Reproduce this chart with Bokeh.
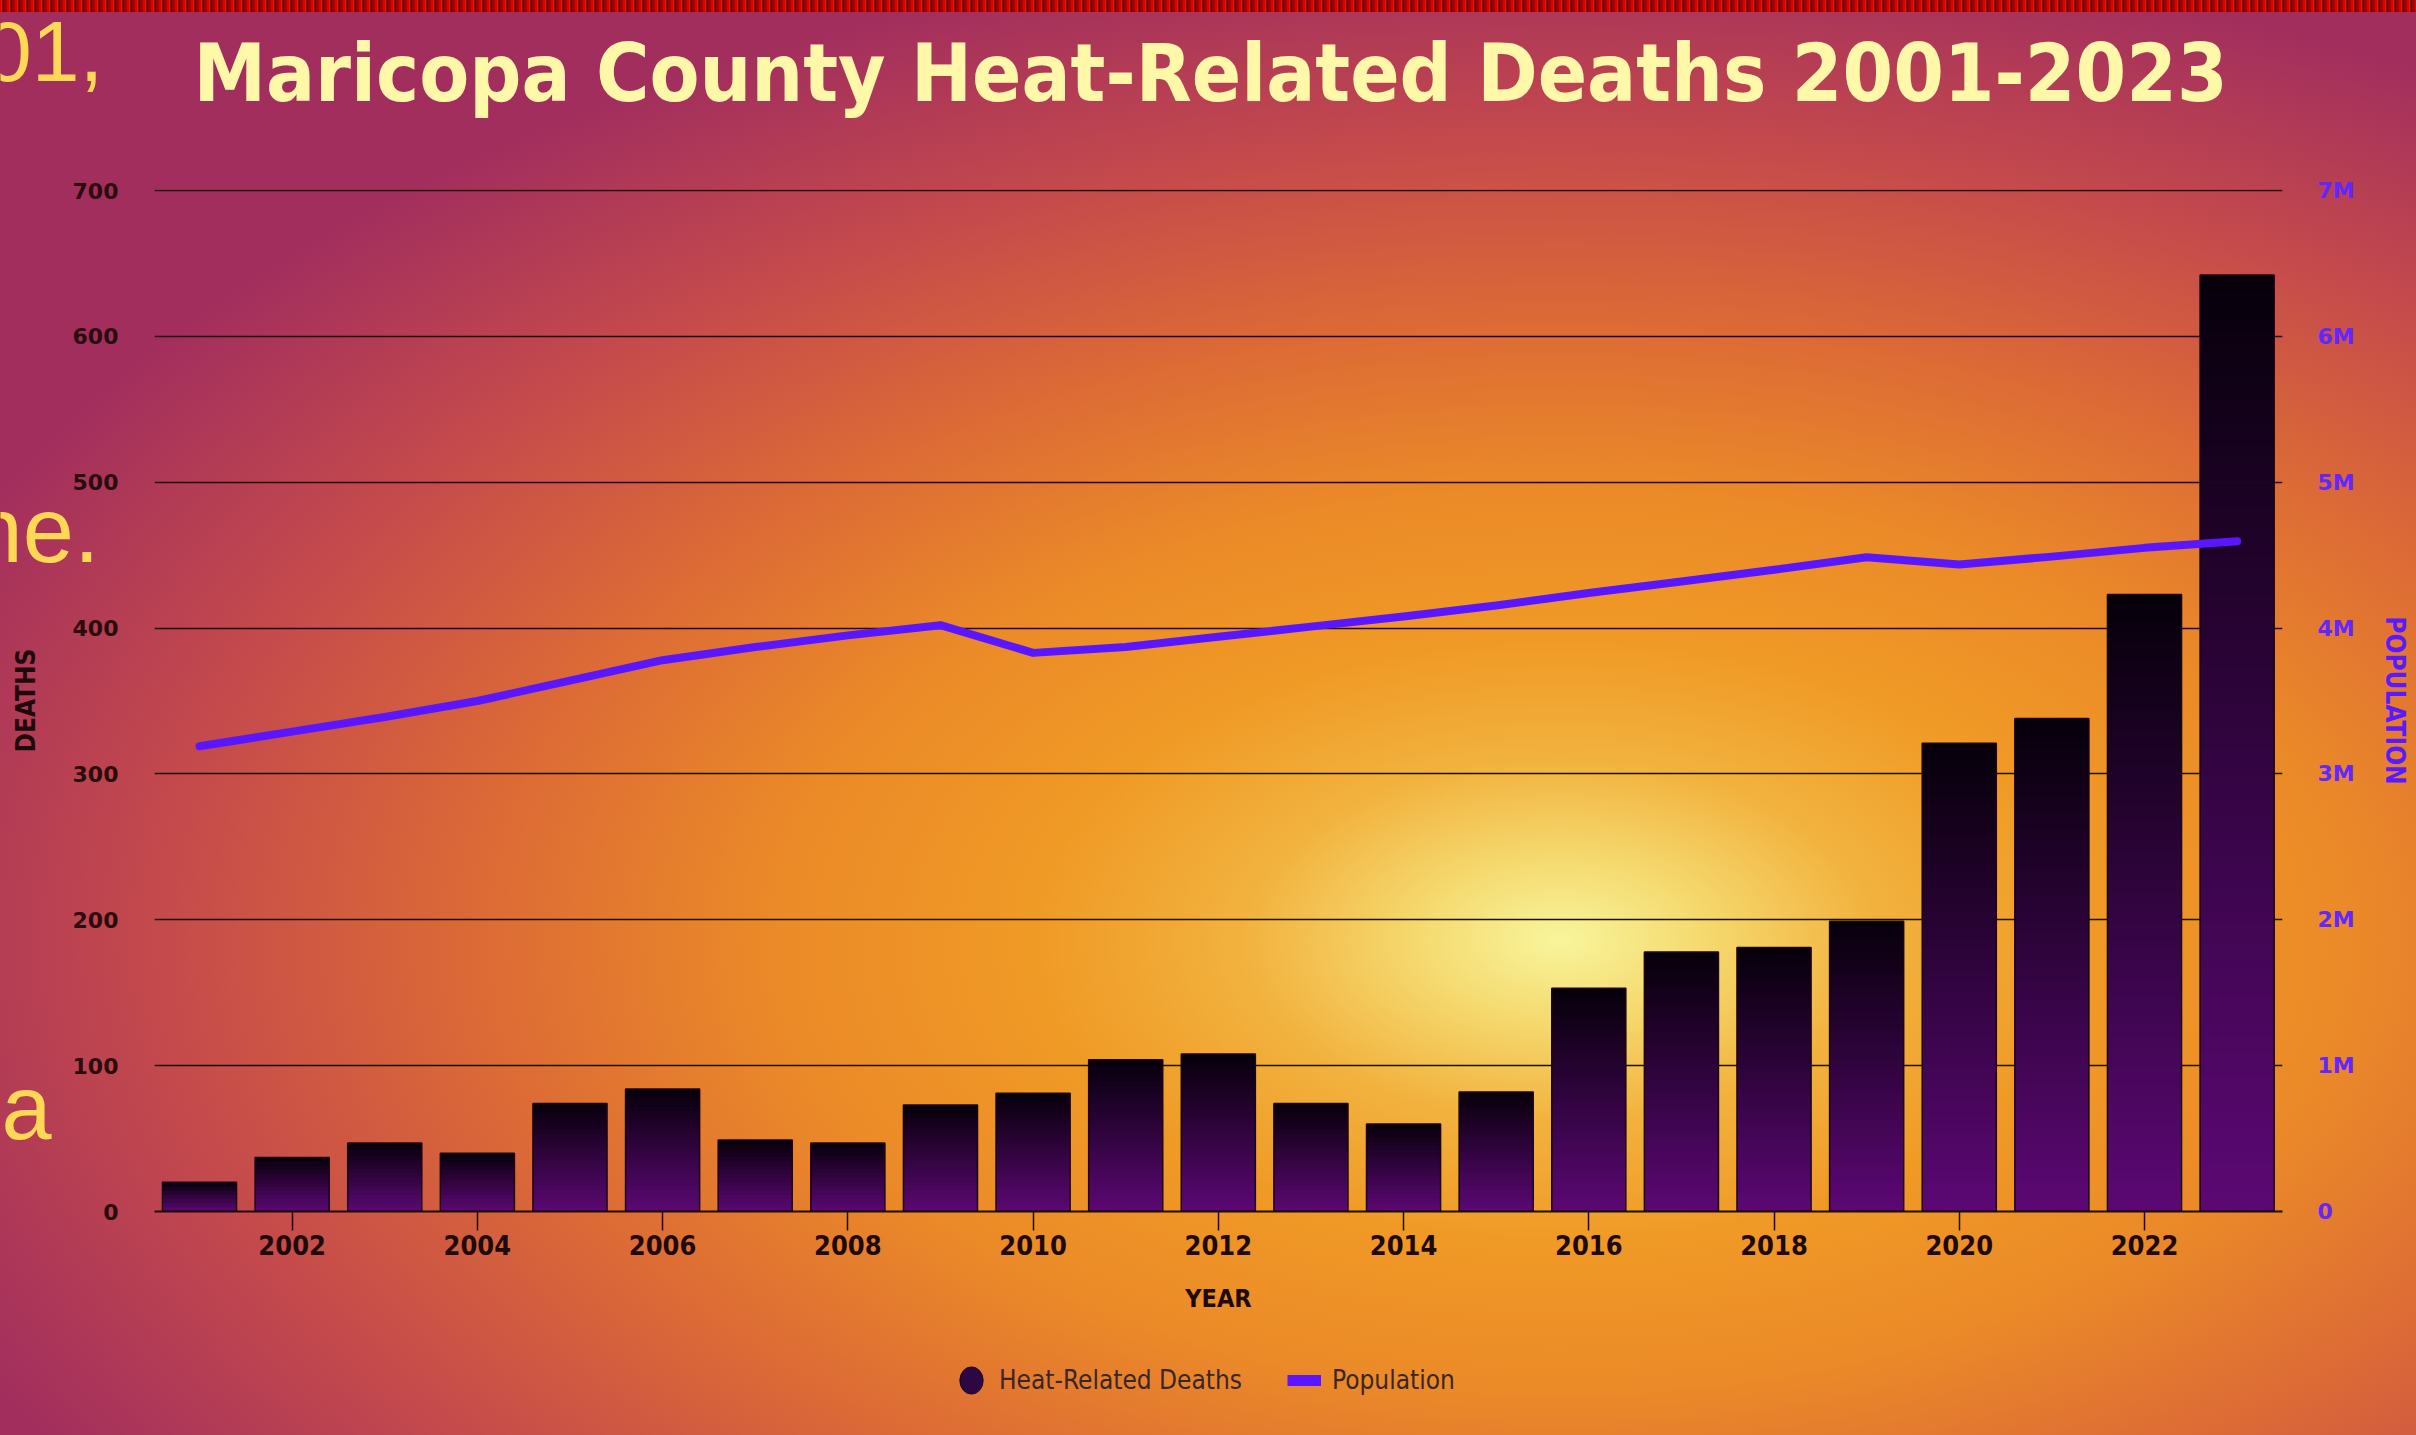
import math
import numpy as np
from bokeh.plotting import figure
from bokeh.layouts import column
from bokeh.models import (Range1d, LinearAxis, FixedTicker, Label, Legend,
                          LegendItem, ColumnDataSource)
from bokeh.embed import file_html
from bokeh.resources import INLINE

# ---------------- data ----------------
years = list(range(2001, 2024))
deaths = [20, 37, 47, 40, 74, 84, 49, 47, 73, 81, 104, 108, 74, 60, 82,
          153, 178, 181, 199, 321, 338, 423, 642]
population_m = [3.19, 3.29, 3.39, 3.50, 3.64, 3.78, 3.87, 3.95, 4.02, 3.83,
                3.87, 3.94, 4.01, 4.08, 4.155, 4.24, 4.32, 4.40, 4.486,
                4.436, 4.49, 4.55, 4.595]
x_ticks = [2002, 2004, 2006, 2008, 2010, 2012, 2014, 2016, 2018, 2020, 2022]
death_ticks = [0, 100, 200, 300, 400, 500, 600, 700]
pop_ticks = [0, 1, 2, 3, 4, 5, 6, 7]
pop_tick_labels = ["0", "1M", "2M", "3M", "4M", "5M", "6M", "7M"]
title_text = "Maricopa County Heat-Related Deaths 2001-2023"
series_names = ["Heat-Related Deaths", "Population"]
fragments = ["01,", "ne.", "a"]

W, H = 2416, 1435
FL, FR, FT, FB = 154, 2282, 189, 1211   # frame edges in page pixels
X0, X1 = 2000.514, 2023.49
Y0, Y1 = 0, 700.7
BASE_SHIFT = 0.43   # label anchor sits ~0.43em above the glyph baseline
FRAG_SHIFT = 0.34

bg = ("repeating-linear-gradient(90deg, #b80000 0px, #ff1a1a 2px, #2a0000 3px, "
      "#d00000 5px, #7a0000 6px, #ff0000 8px) 0 0 / 100% 12px no-repeat, "
      "radial-gradient(ellipse 1750px 1000px at 1560px 940px, #f8f59c 0%, "
      "#f5da70 8%, #f2b23e 18%, #f09a26 30%, #eb8a28 45%, #dc6a36 62%, "
      "#c44a4c 80%, #a22e5e 100%)")

# =============== main chart ===============
p = figure(width=W, height=H, output_backend="svg", toolbar_location=None,
           x_range=Range1d(X0, X1), y_range=Range1d(Y0, Y1),
           min_border_left=FL, min_border_right=W - FR,
           min_border_top=FT, min_border_bottom=H - FB,
           background_fill_color=None, border_fill_color=None,
           outline_line_color=None)
p.styles = {"background": bg}

# bars with a vertical black -> purple gradient (thin stacked slices)
top_c = np.array([6, 0, 10])
bot_c = np.array([92, 8, 116])
step = 3.0
bx, bb, bt, bc = [], [], [], []
for yr, d in zip(years, deaths):
    n = max(4, int(math.ceil(d / step)))
    for i in range(n):
        f = (i + 0.5) / n
        c = bot_c + (top_c - bot_c) * f
        bx.append(yr)
        bb.append(d * i / n)
        bt.append(d * min(1.0, (i + 2.0) / n))
        bc.append("#%02x%02x%02x" % tuple(int(round(v)) for v in c))
slices = ColumnDataSource(dict(x=bx, bottom=bb, top=bt, color=bc))
p.vbar(x="x", bottom="bottom", top="top", width=0.8, source=slices,
       fill_color="color", line_color=None)
p.vbar(x=years, top=deaths, width=0.8, fill_color=None,
       line_color="#1c0614", line_width=1.5)

# population line on the right axis
p.extra_y_ranges = {"pop": Range1d(0, 7 * Y1 / 700)}
p.line(years, population_m, y_range_name="pop", line_color="#5a17ff",
       line_width=8, line_join="round", line_cap="round")

# axes & grid
xa = p.xaxis[0]
xa.ticker = FixedTicker(ticks=x_ticks)
xa.axis_label = "YEAR"
xa.axis_label_text_font = "DejaVu Sans Condensed"
xa.axis_label_text_font_style = "bold"
xa.axis_label_text_font_size = "25px"
xa.axis_label_text_color = "#1e0a0a"
xa.axis_label_standoff = 26
xa.major_label_text_font = "DejaVu Sans Condensed"
xa.major_label_text_font_style = "bold"
xa.major_label_text_font_size = "27px"
xa.major_label_text_color = "#1e0a0a"
xa.major_label_standoff = 4
xa.major_tick_out = 19
xa.major_tick_in = 0
xa.major_tick_line_width = 1.5
xa.major_tick_line_color = "#1e0a0a"
xa.minor_tick_line_color = None
xa.axis_line_width = 2
xa.axis_line_color = "#1e0a0a"

ya = p.yaxis[0]
ya.ticker = FixedTicker(ticks=death_ticks)
ya.axis_label = "DEATHS"
ya.axis_label_text_font = "DejaVu Sans Condensed"
ya.axis_label_text_font_style = "bold"
ya.axis_label_text_font_size = "26px"
ya.axis_label_text_color = "#1e0a0a"
ya.axis_label_standoff = 29
ya.major_label_text_font = "DejaVu Sans"
ya.major_label_text_font_style = "bold"
ya.major_label_text_font_size = "22px"
ya.major_label_text_color = "#2a0c0c"
ya.major_label_standoff = 36
ya.major_tick_out = 0
ya.major_tick_in = 0
ya.minor_tick_line_color = None
ya.axis_line_color = None

ra = LinearAxis(y_range_name="pop", ticker=FixedTicker(ticks=pop_ticks),
                major_label_overrides=dict(zip(pop_ticks, pop_tick_labels)),
                axis_label="POPULATION")
ra.axis_label_text_font = "DejaVu Sans Condensed"
ra.axis_label_text_font_style = "bold"
ra.axis_label_text_font_size = "26px"
ra.axis_label_text_color = "#5a1aff"
ra.axis_label_standoff = 22
ra.major_label_text_font = "DejaVu Sans"
ra.major_label_text_font_style = "bold"
ra.major_label_text_font_size = "22px"
ra.major_label_text_color = "#6226ff"
ra.major_label_standoff = 35
ra.major_tick_out = 0
ra.major_tick_in = 0
ra.minor_tick_line_color = None
ra.axis_line_color = None
p.add_layout(ra, "right")

p.xgrid.visible = False
p.ygrid[0].ticker = FixedTicker(ticks=death_ticks)
p.ygrid.grid_line_color = "#1e0c0c"
p.ygrid.grid_line_width = 1.6

# =============== transparent overlay: title and legend ===============
q = figure(width=W, height=H, output_backend="svg", toolbar_location=None,
           x_range=Range1d(0, 1), y_range=Range1d(0, 1),
           x_axis_type=None, y_axis_type=None, min_border=0,
           background_fill_color=None, border_fill_color=None,
           outline_line_color=None)
q.styles = {"position": "absolute", "top": "0px", "left": "0px",
            "z-index": "2"}
for g in q.grid:
    g.visible = False

# q's frame is aligned with p's frame horizontally; bottom edge at page bottom
title_fs = 81
q.add_layout(Label(x=1210 - FL, y=H - (107 - BASE_SHIFT * title_fs),
                   x_units="screen", y_units="screen",
                   text=title_text, text_align="center",
                   text_baseline="alphabetic",
                   text_font="DejaVu Sans Condensed", text_font_style="bold",
                   text_font_size="%dpx" % title_fs, text_color="#fff8a8"))

# legend swatch stand-ins (placed outside the visible range)
r_dot = q.ellipse(x=[-5], y=[-5], width=24, height=28, width_units="screen",
                  height_units="screen", fill_color="#2c0744",
                  line_color="#1a0528")
r_ln = q.line(x=[-5, -4], y=[-5, -5], line_color="#5a17ff", line_width=11)
legend = Legend(items=[LegendItem(label=series_names[0], renderers=[r_dot]),
                       LegendItem(label=series_names[1], renderers=[r_ln])],
                orientation="horizontal", location=(954 - FL, H - 1397),
                background_fill_alpha=0, border_line_color=None,
                padding=0, margin=0, spacing=45, glyph_width=34,
                glyph_height=34, label_standoff=11,
                label_text_font="DejaVu Sans Condensed",
                label_text_font_size="26px", label_text_color="#3a2626")
q.add_layout(legend)

# =============== separate full-page overlay: slide text at the left edge =====
r = figure(width=W, height=H, output_backend="svg", toolbar_location=None,
           title=None, x_range=Range1d(0, 1), y_range=Range1d(0, 1),
           x_axis_type=None, y_axis_type=None, min_border=0,
           background_fill_color=None, border_fill_color=None,
           outline_line_color=None)
r.styles = {"position": "absolute", "top": "0px", "left": "0px",
            "z-index": "3"}
for g in r.grid:
    g.visible = False
frag_pos = [(103, 80, "right", 86), (99, 561, "right", 92),
            (1, 1138, "left", 90)]
for t, (fx, fy, al, fs) in zip(fragments, frag_pos):
    r.add_layout(Label(x=fx, y=H - (fy - FRAG_SHIFT * fs), x_units="screen",
                       y_units="screen", text=t, text_align=al,
                       text_baseline="alphabetic",
                       text_font="Liberation Sans",
                       text_font_size="%dpx" % fs, text_color="#ffd955"))

layout = column(p, q)
open("out.html", "w").write(file_html([layout, r], INLINE))
